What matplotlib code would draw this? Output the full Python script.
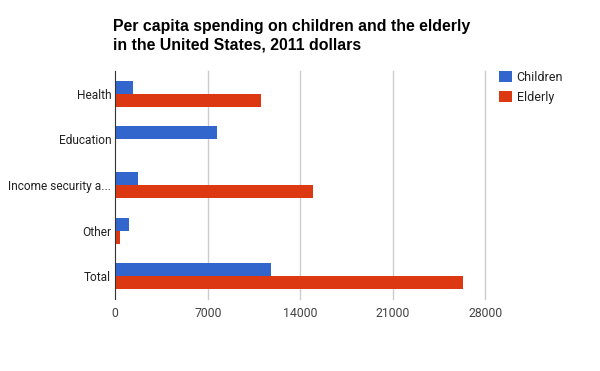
import matplotlib
matplotlib.use("Agg")
import matplotlib.pyplot as plt
import numpy as np

# dados
categorias = ["Health", "Education", "Income security a...", "Other", "Total"]
criancas = [1340, 7700, 1720, 1040, 11790]
idosos = [11030, 0, 14970, 350, 26320]
ticks_x = [0, 7000, 14000, 21000, 28000]

azul = "#3366cc"
vermelho = "#dc3912"

fig = plt.figure(figsize=(6, 3.71), dpi=100)
ax = fig.add_axes([115.3 / 600, 72 / 371, 370 / 600, 228 / 371])

y = np.arange(len(categorias))
h = 0.285
ax.barh(y - h / 2, criancas, height=h, color=azul, label="Children", zorder=3)
ax.barh(y + h / 2, idosos, height=h, color=vermelho, label="Elderly", zorder=3)

ax.set_xlim(0, 28000)
ax.set_ylim(len(categorias) - 0.5, -0.5)
ax.set_xticks(ticks_x)
ax.set_xticklabels([str(t) for t in ticks_x], fontsize=8.8, color="#444444",
                   family="Roboto")
ax.set_yticks(y)
ax.set_yticklabels(categorias, fontsize=8.6, color="#222222", family="Roboto")
ax.tick_params(axis="both", length=0)
ax.tick_params(axis="x", pad=6)
ax.tick_params(axis="y", pad=3)

# linhas de grade (desenhadas a mao para a ultima nao ser cortada)
for t in ticks_x[1:]:
    ax.axvline(t, color="#cccccc", lw=1, zorder=0, clip_on=False)
for s in ["top", "right", "bottom"]:
    ax.spines[s].set_visible(False)
ax.spines["left"].set_color("#333333")
ax.spines["left"].set_zorder(4)

fig.text(113 / 600, 1 - 18.5 / 371,
         "Per capita spending on children and the elderly\nin the United States, 2011 dollars",
         fontsize=11.4, fontweight="bold", family="Liberation Sans", color="#000000",
         va="top", ha="left", linespacing=1.35)

leg = ax.legend(loc="upper left", bbox_to_anchor=(494 / 600, 1 - 66 / 371),
                bbox_transform=fig.transFigure, frameon=False,
                prop={"family": "Roboto", "size": 9}, handlelength=1.0,
                handleheight=1.0, handletextpad=0.4, labelspacing=0.55,
                borderaxespad=0)
for t in leg.get_texts():
    t.set_color("#222222")

fig.savefig("out.png", dpi=100)
